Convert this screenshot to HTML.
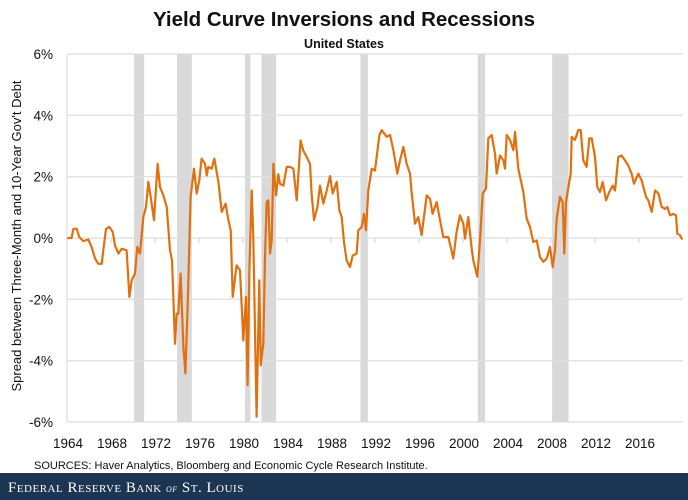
<!DOCTYPE html>
<html><head><meta charset="utf-8"><style>
body{margin:0;background:#fff;}
svg{display:block;font-family:"Liberation Sans",sans-serif;}
</style></head><body>
<svg width="688" height="500" viewBox="0 0 688 500">
<text x="344" y="26" text-anchor="middle" font-size="20.5" font-weight="bold" fill="#111">Yield Curve Inversions and Recessions</text>
<text x="344" y="48" text-anchor="middle" font-size="12.5" font-weight="bold" fill="#111">United States</text>
<text transform="translate(21,236) rotate(-90)" text-anchor="middle" font-size="13" fill="#111">Spread between Three-Month and 10-Year Gov't Debt</text>
<g id="rec"></g>
<g id="grid"></g>
<g id="yl"></g>
<g id="xl"></g>
<path id="line" fill="none" stroke="#e07010" stroke-width="2.2" stroke-linejoin="round"/>
<text x="34" y="469" font-size="11" fill="#111">SOURCES: Haver Analytics, Bloomberg and Economic Cycle Research Institute.</text>
<rect x="0" y="473" width="688" height="27" fill="#1c3553"/>
<text x="8" y="492" font-family="Liberation Serif,serif" font-size="15" fill="#fff" style="font-variant:small-caps;letter-spacing:0.5px">Federal Reserve Bank <tspan font-style="italic" font-size="11">of</tspan> St. Louis</text>
</svg>
<script>
const years=[1964.03,1964.42,1964.58,1964.88,1965.12,1965.48,1965.94,1966.24,1966.55,1966.85,1967.15,1967.30,1967.55,1967.85,1968.15,1968.36,1968.67,1968.97,1969.42,1969.67,1969.88,1970.18,1970.39,1970.64,1970.94,1971.18,1971.39,1971.61,1971.91,1972.24,1972.45,1972.76,1973.06,1973.36,1973.55,1973.82,1973.97,1974.12,1974.33,1974.58,1974.76,1975.00,1975.24,1975.55,1975.79,1976.03,1976.24,1976.55,1976.70,1976.85,1977.15,1977.39,1977.76,1978.06,1978.42,1978.67,1978.88,1979.06,1979.42,1979.73,1980.03,1980.27,1980.42,1980.58,1980.79,1980.94,1981.24,1981.48,1981.61,1981.85,1982.00,1982.15,1982.30,1982.45,1982.61,1982.76,1983.00,1983.21,1983.36,1983.67,1983.97,1984.27,1984.58,1984.88,1985.24,1985.48,1985.79,1986.09,1986.24,1986.45,1986.76,1987.00,1987.30,1987.61,1987.91,1988.15,1988.52,1988.76,1988.97,1989.18,1989.42,1989.73,1989.97,1990.33,1990.48,1990.79,1991.00,1991.18,1991.39,1991.70,1992.00,1992.39,1992.61,1993.06,1993.36,1993.67,1994.03,1994.27,1994.58,1994.88,1995.18,1995.33,1995.64,1995.94,1996.24,1996.70,1997.00,1997.24,1997.61,1997.91,1998.21,1998.67,1999.12,1999.42,1999.73,2000.03,2000.18,2000.48,2000.79,2000.94,2001.30,2001.55,2001.79,2002.09,2002.30,2002.61,2002.91,2003.06,2003.36,2003.67,2003.82,2003.97,2004.27,2004.58,2004.73,2005.03,2005.48,2005.79,2006.09,2006.39,2006.70,2007.00,2007.30,2007.61,2007.91,2008.15,2008.36,2008.52,2008.82,2009.06,2009.21,2009.36,2009.58,2009.79,2009.88,2010.18,2010.48,2010.70,2010.94,2011.24,2011.48,2011.70,2012.00,2012.21,2012.45,2012.70,2013.00,2013.30,2013.61,2013.82,2014.12,2014.42,2014.73,2015.03,2015.33,2015.55,2015.94,2016.24,2016.64,2016.85,2017.15,2017.45,2017.76,2018.06,2018.36,2018.58,2018.82,2019.12,2019.36,2019.48,2019.73,2019.94];
const spread=[0,0,.30,.30,.03,-.10,-.05,-.29,-.67,-.84,-.84,-.40,.30,.36,.20,-.24,-.51,-.35,-.40,-1.92,-1.38,-1.16,-.29,-.51,.68,1.01,1.83,1.34,.58,2.42,1.66,1.39,1.01,-.40,-.73,-3.45,-2.47,-2.47,-1.16,-3.55,-4.42,-1.82,1.34,2.26,1.45,1.88,2.59,2.42,2.04,2.32,2.26,2.59,1.83,.85,1.12,.58,.25,-1.92,-.89,-1.05,-3.34,-1.92,-4.80,-1.05,1.55,.03,-5.83,-1.38,-4.15,-3.45,-.62,1.18,1.23,-.51,-.08,2.42,1.39,2.08,1.77,1.71,2.32,2.32,2.26,1.23,3.18,2.85,2.64,2.42,1.45,.58,1.01,1.71,1.12,1.55,2.02,1.45,1.83,.90,.68,-.13,-.73,-.95,-.57,-.51,.25,.36,.79,.25,1.55,2.26,2.20,3.34,3.52,3.30,3.36,2.86,2.10,2.53,2.97,2.42,2.10,1.50,.47,.68,.09,1.39,1.28,.79,1.17,.58,.03,.03,-.67,.20,.74,.47,-.02,.68,-.35,-.73,-1.27,-.08,1.45,1.61,3.25,3.36,2.75,2.10,2.69,2.53,2.26,3.36,3.20,2.86,3.46,2.26,1.50,.63,.36,-.13,-.08,-.62,-.78,-.67,-.29,-.95,-.40,.63,1.34,1.17,-.51,1.17,1.66,2.10,3.30,3.20,3.52,3.52,2.53,2.32,3.25,3.25,2.64,1.66,1.50,1.83,1.23,1.50,1.71,1.55,2.64,2.69,2.53,2.36,2.10,1.77,2.10,1.88,1.34,1.23,.85,1.55,1.45,1.01,.95,1.01,.74,.79,.74,.14,.09,-.05];
const recStart=[1969.96,1973.87,1980.04,1981.54,1990.54,2001.21,2007.96];
const recEnd=[1970.87,1975.21,1980.54,1982.87,1991.21,2001.87,2009.46];
const yTicks=[6,4,2,0,-2,-4,-6];
const yTickLabels=["6%","4%","2%","0%","-2%","-4%","-6%"];
const xTicks=[1964,1968,1972,1976,1980,1984,1988,1992,1996,2000,2004,2008,2012,2016];
const NS='http://www.w3.org/2000/svg';
const X0=67,X1=683,Y0=422,Y1=54;
const xs=y=>X0+(y-1964)*11;
const ys=v=>Y0-(v+6)/12*(Y0-Y1);
function mk(t,a,p){const e=document.createElementNS(NS,t);for(const k in a)e.setAttribute(k,a[k]);p.appendChild(e);return e;}
const rec=document.getElementById('rec');
recStart.forEach((s,i)=>{const r=mk('rect',{x:xs(s)+1.5,y:Y1,width:xs(recEnd[i])-xs(s),height:Y0-Y1,fill:'#d9d9d9'},rec);

});
const grid=document.getElementById('grid'),yl=document.getElementById('yl');
yTicks.forEach((v,i)=>{const l=mk('line',{x1:X0,x2:X1,y1:ys(v),y2:ys(v),stroke:'#dedede','stroke-width':1.2},grid);


const t=mk('text',{x:53,y:ys(v)+5,'text-anchor':'end','font-size':13.5,fill:'#111'},yl);t.textContent=yTickLabels[i];

});
mk('line',{x1:X0,x2:X0,y1:Y1,y2:Y0,stroke:'#dedede','stroke-width':1.2},grid);
const xl=document.getElementById('xl');
xTicks.forEach(y=>{mk('line',{x1:xs(y),x2:xs(y),y1:ys(0),y2:ys(0)+5,stroke:'#d0d0d0'},grid);
const t=mk('text',{x:xs(y)+1,y:448,'text-anchor':'middle','font-size':13.5,fill:'#111'},xl);t.textContent=y;

});
document.getElementById('line').setAttribute('d',years.map((y,i)=>(i?'L':'M')+xs(y).toFixed(1)+','+ys(spread[i]).toFixed(1)).join(''));
</script>
</body></html>
